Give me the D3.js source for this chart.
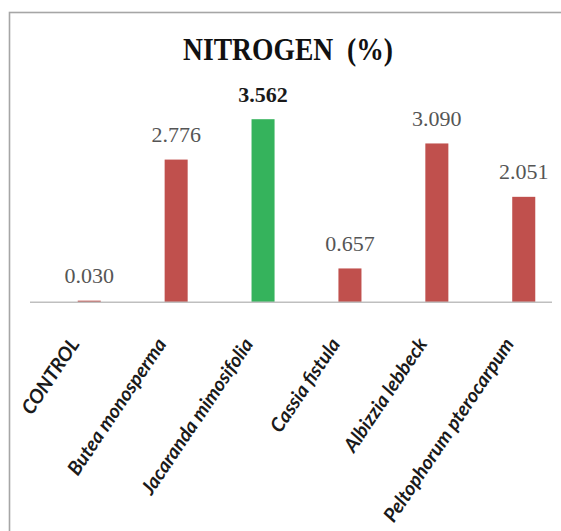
<!DOCTYPE html>
<html>
<head>
<meta charset="utf-8">
<script src="https://cdn.jsdelivr.net/npm/d3@7"></script>
<style>
  html, body { margin: 0; padding: 0; background: #fff; }
  svg { display: block; }
</style>
</head>
<body>
<svg id="chart" width="561" height="531"></svg>
<script>
// Nitrogen content (%) per treatment
const categories = ["CONTROL", "Butea monosperma", "Jacaranda mimosifolia", "Cassia fistula", "Albizzia lebbeck", "Peltophorum pterocarpum"];
const values = [0.030, 2.776, 3.562, 0.657, 3.090, 2.051];
const valueLabels = ["0.030", "2.776", "3.562", "0.657", "3.090", "2.051"];
const highlighted = ["Jacaranda mimosifolia"];
const titleText = "NITROGEN  (%)";

const svg = d3.select("#chart");
const baseY = 302.2;

// chart frame (runs off the right and bottom edges)
svg.append("rect")
  .attr("x", 9.5).attr("y", 12.5)
  .attr("width", 600).attr("height", 600)
  .attr("fill", "#fff")
  .attr("stroke", "#a6a6a6").attr("stroke-width", 1.6);

const x = d3.scaleBand()
  .domain(categories)
  .range([45.8, 567.2])
  .paddingInner(0.735)
  .paddingOuter(0.3675);

const y = d3.scaleLinear().domain([0, 4]).range([baseY, baseY - 205.5]);

// title
svg.append("text")
  .attr("x", 288).attr("y", 59.5)
  .attr("text-anchor", "middle")
  .attr("font-family", "'Liberation Serif', 'Times New Roman', serif")
  .attr("font-weight", "bold")
  .attr("font-size", 31)
  .attr("fill", "#111")
  .attr("textLength", 210)
  .attr("lengthAdjust", "spacingAndGlyphs")
  .style("white-space", "pre")
  .text(titleText);

// bars
svg.selectAll("rect.bar")
  .data(categories)
  .join("rect")
  .attr("class", "bar")
  .attr("x", d => x(d))
  .attr("width", x.bandwidth())
  .attr("y", (d, i) => y(values[i]))
  .attr("height", (d, i) => baseY - y(values[i]))
  .attr("fill", d => highlighted.includes(d) ? "#35b35c" : "#c0504d");

// category axis line
svg.append("line")
  .attr("x1", 30).attr("x2", 552)
  .attr("y1", baseY).attr("y2", baseY)
  .attr("stroke", "#bfbfbf").attr("stroke-width", 1.6);

// value labels
svg.selectAll("text.val")
  .data(categories)
  .join("text")
  .attr("class", "val")
  .attr("x", d => x(d) + x.bandwidth() / 2)
  .attr("y", (d, i) => y(values[i]) - 17.5)
  .attr("text-anchor", "middle")
  .attr("font-family", "'Liberation Serif', 'Times New Roman', serif")
  .attr("font-size", 22)
  .attr("font-weight", d => highlighted.includes(d) ? "bold" : "normal")
  .attr("fill", d => highlighted.includes(d) ? "#1a1a1a" : "#555555")
  .text((d, i) => valueLabels[i]);

// rotated category labels
svg.selectAll("text.cat")
  .data(categories)
  .join("text")
  .attr("class", "cat")
  .attr("transform", d => `translate(${x(d) + x.bandwidth() / 2 - 9},${344}) rotate(-56)`)
  .attr("text-anchor", "end")
  .attr("font-family", "Lato, 'Open Sans', sans-serif")
  .attr("font-style", "italic")
  .attr("font-weight", "bold")
  .attr("font-size", 19.5)
  .attr("fill", "#1a1a1a")
  .text(d => d);
</script>
</body>
</html>
